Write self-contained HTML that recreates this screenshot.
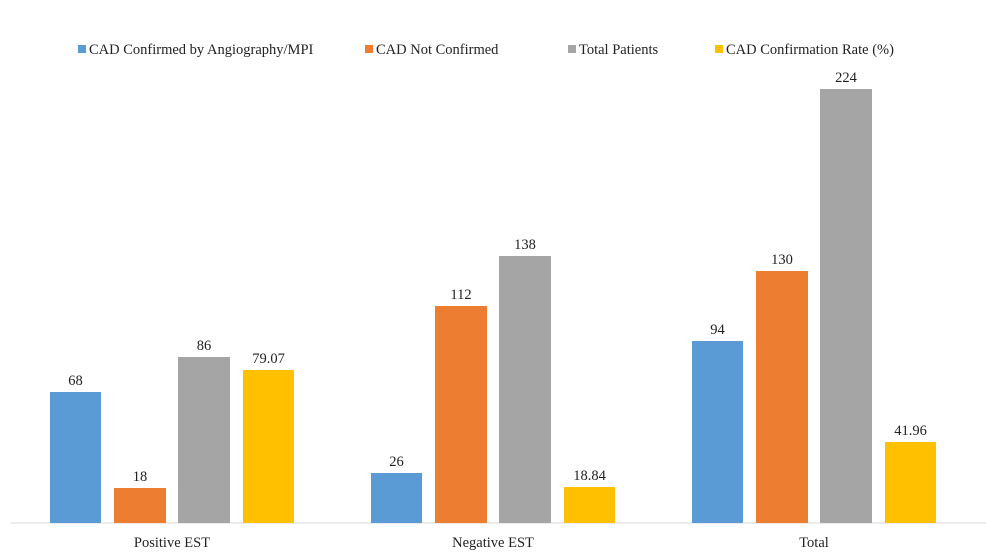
<!DOCTYPE html>
<html><head><style>body{margin:0;background:#fff}svg{display:block}</style></head>
<body>
<svg width="986" height="555" xmlns="http://www.w3.org/2000/svg" font-family="Liberation Serif, serif" font-size="14.5" fill="#222">
<rect width="986" height="555" fill="#fff"/>
<g>
<rect x="78" y="45" width="8" height="8" fill="#5b9bd5"/><text x="89" y="54">CAD Confirmed by Angiography/MPI</text>
<rect x="365" y="45" width="8" height="8" fill="#ed7d31"/><text x="376" y="54">CAD Not Confirmed</text>
<rect x="568" y="45" width="8" height="8" fill="#a5a5a5"/><text x="579" y="54">Total Patients</text>
<rect x="715" y="45" width="8" height="8" fill="#ffc000"/><text x="726" y="54">CAD Confirmation Rate (%)</text>
</g>
<line x1="11" y1="523" x2="986" y2="523" stroke="#d9d9d9" stroke-width="1"/>
<g text-anchor="middle">
<rect x="50" y="392" width="51" height="131" fill="#5b9bd5"/><text x="75.5" y="385">68</text>
<rect x="114" y="488" width="52" height="35" fill="#ed7d31"/><text x="140" y="481">18</text>
<rect x="178" y="357" width="52" height="166" fill="#a5a5a5"/><text x="204" y="350">86</text>
<rect x="243" y="370" width="51" height="153" fill="#ffc000"/><text x="268.5" y="363">79.07</text>
<rect x="371" y="473" width="51" height="50" fill="#5b9bd5"/><text x="396.5" y="466">26</text>
<rect x="435" y="306" width="52" height="217" fill="#ed7d31"/><text x="461" y="299">112</text>
<rect x="499" y="256" width="52" height="267" fill="#a5a5a5"/><text x="525" y="249">138</text>
<rect x="564" y="487" width="51" height="36" fill="#ffc000"/><text x="589.5" y="480">18.84</text>
<rect x="692" y="341" width="51" height="182" fill="#5b9bd5"/><text x="717.5" y="334">94</text>
<rect x="756" y="271" width="52" height="252" fill="#ed7d31"/><text x="782" y="264">130</text>
<rect x="820" y="89" width="52" height="434" fill="#a5a5a5"/><text x="846" y="82">224</text>
<rect x="885" y="442" width="51" height="81" fill="#ffc000"/><text x="910.5" y="435">41.96</text>
<text x="172" y="547">Positive EST</text>
<text x="493" y="547">Negative EST</text>
<text x="814" y="547">Total</text>
</g>
</svg>
</body></html>
